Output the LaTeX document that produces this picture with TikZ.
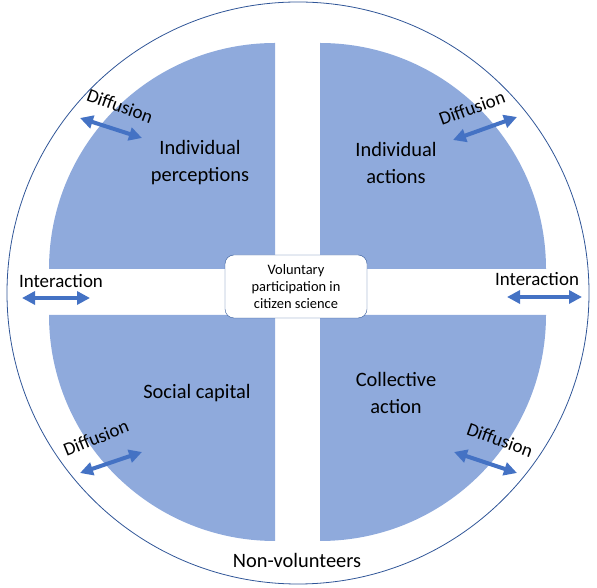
\documentclass[tikz,border=0pt]{standalone}
\usepackage{fontspec}
\setmainfont{Carlito}
\usetikzlibrary{arrows.meta,positioning}
\definecolor{quadblue}{HTML}{8FAADC}
\definecolor{arrowblue}{HTML}{4472C4}
\definecolor{ringblue}{HTML}{2F5597}

\begin{document}
\begin{tikzpicture}[
    x=1bp, y=1bp,
    quad/.style={fill=quadblue},
    ring/.style={draw=ringblue, line width=0.8bp},
    theme/.style={align=center, font=\fontsize{20.5}{27}\selectfont},
    flow/.style={inner sep=1bp, font=\fontsize{19}{22}\selectfont},
    centrebox/.style={draw=ringblue, fill=white, rounded corners=9bp, minimum width=142bp, minimum height=63bp, align=center, font=\fontsize{14.5}{17.5}\selectfont},
    dblarrow/.style={{Triangle[length=13bp,width=13bp]}-{Triangle[length=13bp,width=13bp]}, line width=4bp, draw=arrowblue}
]
\useasboundingbox (0,0) rectangle (597,588);

% outer ring
\draw[ring] (298,295) circle[radius=291];

% four quadrants
\fill[quad] (275,319) -- ++(-226,0) arc[start angle=180, end angle=90, radius=226] -- cycle;
\fill[quad] (320,319) -- ++(0,226) arc[start angle=90, end angle=0, radius=226] -- cycle;
\fill[quad] (275,273) -- ++(-226,0) arc[start angle=180, end angle=270, radius=226] -- cycle;
\fill[quad] (320,273) -- ++(226,0) arc[start angle=0, end angle=-90, radius=226] -- cycle;

% themes
\node[theme] (perc) at (200,425) {Individual\\perceptions};
\node[theme] (act) at (396,425) {Individual\\actions};
\node[theme] (social) at (197,195) {Social capital};
\node[theme] (collect) at (396,195) {Collective\\action};

\node[centrebox] (vol) at (296,301.5) {Voluntary\\participation in\\citizen science};

\node[theme] (nonvol) at (297,28) {Non-volunteers};

% interaction
\node[flow] (interL) at (61,307) {Interaction};
\node[flow] (interR) at (537,309) {Interaction};
\coordinate (iL1) at (22,290);
\coordinate (iL2) at (90,290);
\coordinate (iR1) at (507,291);
\coordinate (iR2) at (582,291);
\draw[dblarrow] (iL1) -- (iL2);
\draw[dblarrow] (iR1) -- (iR2);

% diffusion
\node[flow, rotate=-20] (difTL) at (120,482) {Diffusion};
\node[flow, rotate=20] (difTR) at (472,480) {Diffusion};
\node[flow, rotate=22] (difBL) at (96,150) {Diffusion};
\node[flow, rotate=-20] (difBR) at (500,148) {Diffusion};
\coordinate (dTL1) at (80,470);
\coordinate (dTL2) at (142,450);
\coordinate (dTR1) at (453,448);
\coordinate (dTR2) at (517,471);
\coordinate (dBL1) at (80,115);
\coordinate (dBL2) at (142,136);
\coordinate (dBR1) at (454,136);
\coordinate (dBR2) at (517,115);
\draw[dblarrow] (dTL1) -- (dTL2);
\draw[dblarrow] (dTR1) -- (dTR2);
\draw[dblarrow] (dBL1) -- (dBL2);
\draw[dblarrow] (dBR1) -- (dBR2);
\end{tikzpicture}
\end{document}
